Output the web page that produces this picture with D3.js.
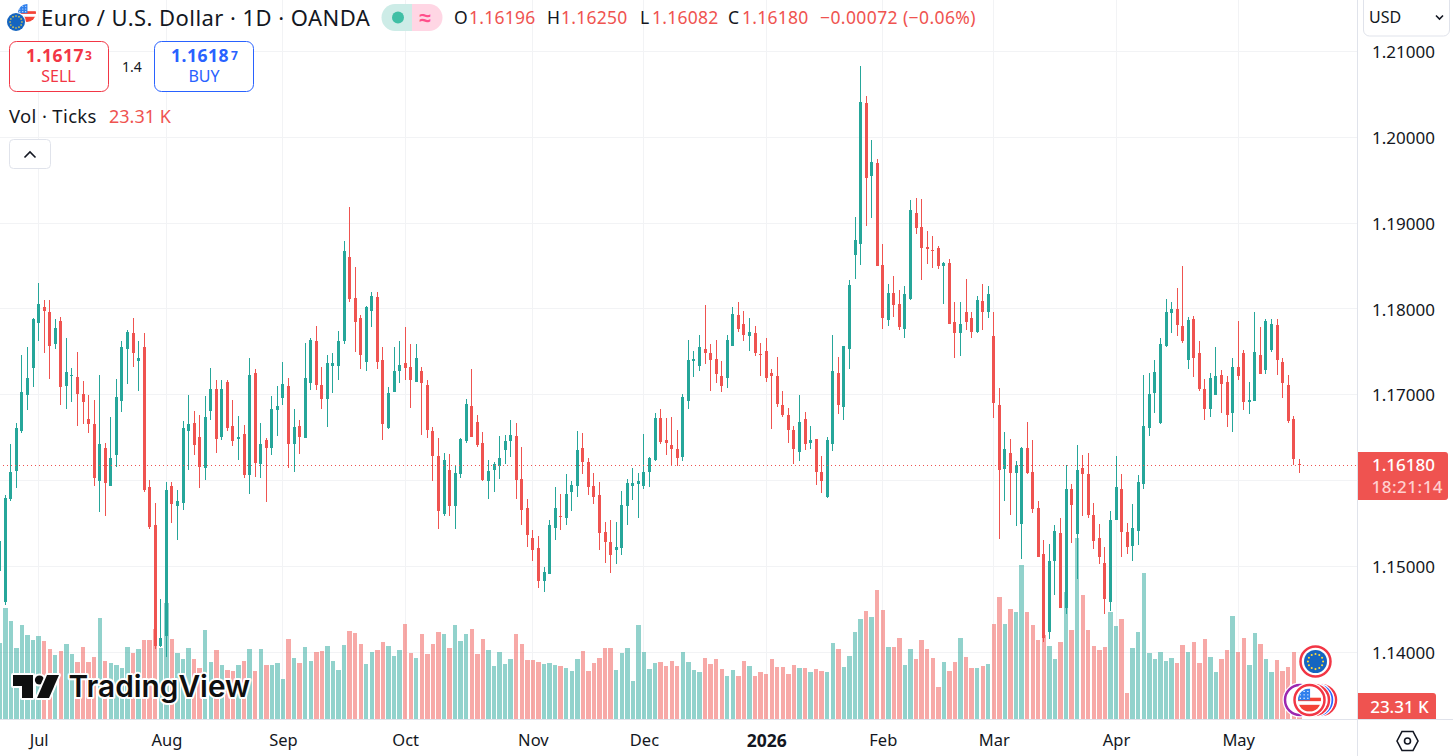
<!DOCTYPE html>
<html><head><meta charset="utf-8">
<script src="https://cdn.jsdelivr.net/npm/d3@7/dist/d3.min.js"></script>
<style>html,body{margin:0;padding:0;background:#fff;overflow:hidden}text{font-family:"Noto Sans",sans-serif;fill:#131722}</style>
</head><body><svg id="c" width="1453" height="756" xmlns="http://www.w3.org/2000/svg"></svg>
<script>
const opens=[1.14940,1.14586,1.15783,1.16109,1.16574,1.16993,1.17307,1.17842,1.18028,1.17969,
1.17597,1.17865,1.17097,1.17214,1.17202,1.17004,1.16714,1.16655,1.15993,1.16376,1.15935,
1.16295,1.16923,1.17539,1.17714,1.17388,1.17562,1.15923,1.15481,1.14066,1.14183,1.15935,
1.15702,1.15737,1.16574,1.16667,1.16504,1.16144,1.16807,1.17062,1.16504,1.17144,1.16632,
1.16481,1.16539,1.16062,1.17248,1.16190,1.16469,1.16376,1.16818,1.16958,1.17097,1.16423,
1.16632,1.16493,1.17132,1.17632,1.17109,1.16946,1.17330,1.17330,1.17632,1.18609,1.18132,
1.17900,1.17376,1.17981,1.18144,1.17400,1.16609,1.17028,1.17272,1.17365,1.17318,1.17144,
1.17272,1.17109,1.16574,1.16283,1.15609,1.16121,1.15702,1.16074,1.16458,1.16865,1.16679,
1.16435,1.15993,1.16121,1.16167,1.16353,1.16458,1.16516,1.16016,1.15679,1.15330,1.15214,
1.14830,1.14911,1.15446,1.15586,1.15562,1.15865,1.15935,1.16376,1.16214,1.15935,1.15830,
1.15400,1.15283,1.15190,1.15214,1.15702,1.15935,1.15958,1.15935,1.16097,1.16237,1.16725,
1.16469,1.16412,1.16365,1.16272,1.16923,1.17388,1.17330,1.17528,1.17481,1.17412,1.17214,
1.17191,1.17574,1.17935,1.17819,1.17679,1.17714,1.17470,1.17505,1.17249,1.17214,1.16877,
1.16760,1.16586,1.16330,1.16714,1.16435,1.16481,1.16098,1.15807,1.16423,1.17249,1.16853,
1.17528,1.18633,1.18760,1.20400,1.19551,1.19702,1.18516,1.17877,1.18191,1.18063,1.17772,
1.18121,1.19121,1.18958,1.18726,1.18691,1.18714,1.18505,1.18540,1.17853,1.17714,1.17970,
1.17900,1.17726,1.18098,1.17970,1.17690,1.16876,1.16132,1.16318,1.16086,1.15493,1.16376,
1.16097,1.15679,1.15144,1.14237,1.15062,1.15388,1.14516,1.15900,1.15376,1.16144,1.16074,
1.15597,1.15330,1.15039,1.14586,1.15539,1.15900,1.15400,1.15237,1.15411,1.15958,1.16609,
1.17016,1.16667,1.17574,1.17958,1.18004,1.17807,1.17400,1.17888,1.17481,1.17062,1.16830,
1.16993,1.17225,1.17144,1.16783,1.17318,1.17481,1.16911,1.16923,1.17469,1.17283,1.17516,
1.17818,1.17376,1.17109,1.16714,1.16196];
const highs=[1.15360,1.15830,1.16423,1.16667,1.17458,1.17551,1.17900,1.18307,1.18109,1.18109,
1.17888,1.17911,1.17667,1.17307,1.17504,1.17155,1.16993,1.16935,1.17225,1.16435,1.16737,
1.17179,1.17621,1.17760,1.17900,1.17621,1.17714,1.16004,1.15737,1.14621,1.15981,1.15981,
1.15888,1.16690,1.16993,1.16807,1.16760,1.16981,1.17307,1.17167,1.17167,1.17167,1.16935,
1.16748,1.16644,1.17434,1.17295,1.16667,1.16493,1.16981,1.17097,1.17376,1.17190,1.16830,
1.16702,1.17609,1.17667,1.17807,1.17318,1.17469,1.17481,1.17748,1.18795,1.19190,1.18493,
1.17934,1.18039,1.18202,1.18202,1.17551,1.17086,1.17551,1.17621,1.17795,1.17597,1.17597,
1.17318,1.17167,1.16621,1.16493,1.16318,1.16307,1.16167,1.16493,1.16946,1.17295,1.16760,
1.16562,1.16237,1.16214,1.16516,1.16528,1.16702,1.16667,1.16388,1.15783,1.15423,1.15353,
1.14993,1.15539,1.15923,1.15841,1.16074,1.15993,1.16574,1.16551,1.16260,1.16086,1.15981,
1.15516,1.15539,1.15516,1.15876,1.16016,1.16144,1.16086,1.16539,1.16272,1.16783,1.16830,
1.16725,1.16737,1.16586,1.17005,1.17633,1.17505,1.17702,1.18051,1.17586,1.17633,1.17388,
1.17702,1.18028,1.18086,1.17981,1.17900,1.17807,1.17609,1.17656,1.17295,1.17435,1.17039,
1.16842,1.16633,1.16993,1.16795,1.16633,1.16481,1.16284,1.16505,1.17702,1.17435,1.17574,
1.18342,1.19074,1.20830,1.20481,1.19970,1.19749,1.18760,1.18295,1.18388,1.18226,1.18272,
1.19272,1.19295,1.19284,1.18912,1.18853,1.18737,1.18551,1.18586,1.18086,1.18086,1.18353,
1.17970,1.18156,1.18295,1.18272,1.17969,1.17074,1.16562,1.16481,1.16225,1.16388,1.16679,
1.16469,1.15760,1.15307,1.15260,1.15481,1.15562,1.16179,1.15958,1.16411,1.16295,1.16318,
1.15737,1.15493,1.15225,1.15644,1.16283,1.16074,1.15504,1.15725,1.16062,1.17225,1.17248,
1.17400,1.17667,1.18121,1.18086,1.18248,1.18504,1.17911,1.17923,1.17632,1.17179,1.17248,
1.17562,1.17283,1.17214,1.17423,1.17865,1.17516,1.17144,1.17969,1.17795,1.17888,1.17888,
1.17888,1.17423,1.17225,1.16748,1.16250];
const lows=[1.14930,1.14551,1.15760,1.15911,1.16551,1.16818,1.17086,1.17621,1.17481,1.17179,
1.17539,1.16876,1.16830,1.16911,1.16632,1.16655,1.16551,1.15935,1.15632,1.15586,1.15935,
1.16155,1.16795,1.17121,1.17318,1.17039,1.15865,1.15434,1.14031,1.14055,1.13938,1.15504,
1.15307,1.15655,1.16121,1.16295,1.15911,1.16004,1.16702,1.16318,1.16469,1.16574,1.16400,
1.16237,1.16028,1.15841,1.16039,1.16028,1.15748,1.16295,1.16516,1.16876,1.16144,1.16097,
1.16307,1.16493,1.17051,1.17051,1.16830,1.16621,1.17016,1.17167,1.17586,1.18086,1.17504,
1.17295,1.17272,1.17795,1.17295,1.16469,1.16597,1.17028,1.17132,1.17167,1.16841,1.17144,
1.16528,1.16493,1.15993,1.15434,1.15586,1.15586,1.15434,1.16028,1.16435,1.16504,1.16388,
1.15993,1.15783,1.15865,1.16016,1.16190,1.16272,1.15783,1.15481,1.15225,1.15062,1.14748,
1.14702,1.14911,1.15307,1.15423,1.15481,1.15644,1.15807,1.16074,1.15830,1.15725,1.15190,
1.15039,1.14923,1.15028,1.15132,1.15481,1.15772,1.15562,1.15900,1.15923,1.16225,1.16423,
1.16295,1.16179,1.16167,1.16226,1.16830,1.17202,1.17272,1.17353,1.17039,1.17133,1.17028,
1.17074,1.17574,1.17737,1.17621,1.17505,1.17447,1.17214,1.17144,1.16598,1.16853,1.16737,
1.16435,1.16191,1.16226,1.16353,1.16365,1.15947,1.15854,1.15795,1.16342,1.16772,1.16702,
1.17295,1.18353,1.18516,1.18970,1.19063,1.18505,1.17772,1.17807,1.17912,1.17760,1.17667,
1.18109,1.18877,1.18342,1.18528,1.18481,1.18470,1.18063,1.17830,1.17423,1.17447,1.17749,
1.17667,1.17714,1.17749,1.17900,1.16725,1.15318,1.15760,1.15597,1.15469,1.15086,1.16074,
1.15621,1.15109,1.14121,1.14155,1.14667,1.14516,1.14446,1.15272,1.14853,1.15586,1.15562,
1.15202,1.15027,1.14446,1.14481,1.15539,1.15109,1.15144,1.15062,1.15248,1.15900,1.16516,
1.16783,1.16655,1.17562,1.17725,1.17679,1.17609,1.17295,1.17202,1.17039,1.16702,1.16737,
1.16993,1.16783,1.16620,1.16562,1.17167,1.16818,1.16772,1.16923,1.17237,1.17237,1.17493,
1.17225,1.16958,1.16667,1.16179,1.16082];
const closes=[1.15300,1.15795,1.16097,1.16609,1.17028,1.17190,1.17888,1.18062,1.17981,1.17574,
1.17783,1.17086,1.17260,1.17225,1.17004,1.16911,1.16655,1.16028,1.16423,1.15969,1.16260,
1.16969,1.17551,1.17737,1.17481,1.17423,1.15888,1.15458,1.14066,1.14167,1.15888,1.15725,
1.15760,1.16609,1.16655,1.16411,1.16155,1.16737,1.17062,1.16481,1.17062,1.16609,1.16458,
1.16504,1.16062,1.17225,1.16202,1.16423,1.16376,1.16830,1.16865,1.17121,1.16423,1.16621,
1.16504,1.17190,1.17644,1.17109,1.16946,1.17365,1.17365,1.17621,1.18679,1.18121,1.17853,
1.17469,1.18028,1.18155,1.17376,1.16655,1.17016,1.17272,1.17341,1.17307,1.17167,1.17434,
1.17132,1.16586,1.16283,1.15644,1.16237,1.15702,1.16086,1.16481,1.16888,1.16504,1.16411,
1.16004,1.16109,1.16190,1.16260,1.16458,1.16528,1.16004,1.15655,1.15365,1.15190,1.14830,
1.14935,1.15481,1.15679,1.15574,1.15841,1.15946,1.16353,1.16214,1.15923,1.15807,1.15388,
1.15283,1.15132,1.15225,1.15714,1.15969,1.15969,1.15993,1.16097,1.16260,1.16725,1.16446,
1.16435,1.16365,1.16260,1.16970,1.17400,1.17412,1.17551,1.17481,1.17400,1.17237,1.17098,
1.17633,1.17947,1.17772,1.17702,1.17737,1.17481,1.17458,1.17191,1.17214,1.16888,1.16760,
1.16586,1.16365,1.16679,1.16423,1.16470,1.16098,1.15993,1.16470,1.17272,1.16877,1.17563,
1.18284,1.18807,1.20412,1.19528,1.19714,1.18505,1.17900,1.18191,1.18051,1.17784,1.18179,
1.19156,1.18946,1.18714,1.18702,1.18679,1.18505,1.18540,1.17830,1.17714,1.17830,1.17853,
1.17737,1.18109,1.17970,1.18179,1.16900,1.16121,1.16365,1.16086,1.16179,1.16376,1.16086,
1.15667,1.15109,1.14167,1.15062,1.15411,1.14516,1.15900,1.15714,1.16121,1.16074,1.15597,
1.15295,1.15109,1.14620,1.15539,1.15923,1.15400,1.15225,1.15446,1.15981,1.16632,1.17004,
1.17260,1.17597,1.17969,1.18004,1.17818,1.17632,1.17876,1.17434,1.17062,1.16830,1.17190,
1.17214,1.17120,1.16760,1.17318,1.17214,1.16911,1.16934,1.17493,1.17237,1.17865,1.17830,
1.17400,1.17132,1.16690,1.16248,1.16180];
const volumes=[137,200,176,128,169,151,142,150,141,126,115,123,135,117,103,130,103,112,182,105,101,
97,92,130,119,126,142,142,162,128,209,144,119,108,128,108,92,160,103,124,97,89,87,97,105,126,87,126,97,97,101,
72,144,110,101,130,105,121,123,132,105,89,133,158,155,135,99,121,124,139,132,114,124,171,119,110,153,117,135,157,153,
128,169,141,153,162,117,144,124,96,121,99,108,153,135,106,106,103,99,101,97,96,92,87,108,123,87,101,110,128,128,
89,119,128,69,169,121,90,101,103,96,105,96,121,103,89,85,110,99,108,90,78,89,78,105,96,78,85,81,108,94,
94,81,97,92,92,85,90,87,85,137,126,94,114,157,180,194,184,232,196,130,130,146,97,126,108,142,126,110,58,103,
87,103,146,112,92,92,96,99,171,219,171,198,193,277,193,169,142,151,132,108,139,228,160,325,223,160,132,124,130,193,
167,180,47,128,157,263,119,108,121,105,110,101,133,121,139,101,144,112,85,108,124,185,121,146,97,155,135,108,85,106,
87,94,121,23.31];
const priceTicks=[1.21,1.2,1.19,1.18,1.17,1.16,1.15,1.14];
const timeLabels=["Jul","Aug","Sep","Oct","Nov","Dec","2026","Feb","Mar","Apr","May"];
const timeIndex=[6,29,50,72,95,115,137,158,178,200,222];
const legendQuote={o:"1.16196",h:"1.16250",l:"1.16082",c:"1.16180",chg:"−0.00072 (−0.06%)"};
const lastPrice=1.16180, countdown="18:21:14", lastVolume="23.31 K";

const UP="#26a69a",DOWN="#ef5350",W=1453,H=756,PANE=1357,BOT=719;
const svg=d3.select("#c");
const x=d3.scaleLinear().domain([0,233]).range([5.3,1299.3]);
const y=d3.scaleLinear().domain([1.14,1.21]).range([652,51.7]);
const v=d3.scaleLinear().domain([0,23.31]).range([719.3,706.3]);
const data=opens.map((o,i)=>({i:i-1,o,h:highs[i],l:lows[i],c:closes[i],v:volumes[i]}));
const snap=i=>Math.floor(x(i))+0.5;
svg.append("clipPath").attr("id","pane").append("rect").attr("width",PANE).attr("height",BOT);
const pane=svg.append("g").attr("clip-path","url(#pane)");
const GRID="#f2f3f5";
pane.append("g").selectAll("line").data(priceTicks).join("line").attr("x1",0).attr("x2",PANE)
 .attr("y1",d=>Math.floor(y(d))+.5).attr("y2",d=>Math.floor(y(d))+.5).attr("stroke",GRID);
pane.append("g").selectAll("line").data(timeIndex).join("line").attr("y1",0).attr("y2",BOT)
 .attr("x1",d=>snap(d)).attr("x2",d=>snap(d)).attr("stroke",GRID);
// volume
pane.append("g").attr("shape-rendering","crispEdges").selectAll("rect").data(data).join("rect")
 .attr("x",d=>Math.round(x(d.i)-2.2)).attr("width",d=>Math.round(x(d.i)+2.2)-Math.round(x(d.i)-2.2))
 .attr("y",d=>v(d.v)).attr("height",d=>v(0)-v(d.v))
 .attr("fill",d=>d.c>=d.o?UP:DOWN).attr("fill-opacity",.5);
// candles
const cg=pane.append("g").attr("shape-rendering","crispEdges");
cg.selectAll("line").data(data).join("line").attr("x1",d=>snap(d.i)).attr("x2",d=>snap(d.i))
 .attr("y1",d=>y(d.h)).attr("y2",d=>y(d.l)).attr("stroke",d=>d.c>=d.o?UP:DOWN);
cg.selectAll("rect").data(data).join("rect").attr("x",d=>snap(d.i)-1.5).attr("width",3)
 .attr("y",d=>y(Math.max(d.o,d.c))).attr("height",d=>Math.max(1,Math.abs(y(d.o)-y(d.c))))
 .attr("fill",d=>d.c>=d.o?UP:DOWN);
// last price line
pane.append("line").attr("x1",3).attr("x2",PANE).attr("y1",Math.round(y(lastPrice))+.5).attr("y2",Math.round(y(lastPrice))+.5)
 .attr("stroke",DOWN).attr("stroke-dasharray","1 3");
// axes lines
const AX="#e0e3eb";
svg.append("line").attr("x1",PANE+.5).attr("x2",PANE+.5).attr("y1",0).attr("y2",H).attr("stroke",AX);
svg.append("line").attr("x1",0).attr("x2",W).attr("y1",BOT+.5).attr("y2",BOT+.5).attr("stroke",AX);
// price axis
const px=svg.append("g").attr("transform",`translate(${PANE+15},0.8)`).call(d3.axisRight(y).tickValues(priceTicks.filter(d=>d!==1.16)).tickSize(0).tickPadding(0).tickFormat(d3.format(".5f")));
px.select(".domain").remove();
px.selectAll("text").attr("font-size",17).style("font-family",'"Noto Sans",sans-serif').style("fill","#131722");
// time axis
const tx=svg.append("g").attr("transform",`translate(0,${BOT})`).call(d3.axisBottom(x).tickValues(timeIndex).tickSize(0).tickPadding(15.5).tickFormat((d,i)=>timeLabels[i]));
tx.select(".domain").remove();
tx.selectAll("text").attr("font-size",(d,i)=>timeLabels[i]==="2026"?17.5:16.5).style("font-family",'"Noto Sans",sans-serif').style("fill","#131722").attr("font-weight",(d,i)=>timeLabels[i]==="2026"?700:400);
// helper
const T=(s,xx,yy,fs,col,a)=>{const t=svg.append("text").attr("x",xx).attr("y",yy).attr("font-size",fs).style("fill",col).text(s);if(a)t.attr("text-anchor",a);return t;};
// header
T("Euro / U.S. Dollar · 1D · OANDA",41,25.5,22,"#131722").attr("letter-spacing",.45);
// flags
function euro(cx,cy,r){const g=svg.append("g");g.append("circle").attr("cx",cx).attr("cy",cy).attr("r",r).attr("fill","#1565c0");
 d3.range(12).forEach(k=>{const a=k/12*2*Math.PI;g.append("circle").attr("cx",cx+Math.cos(a)*r*.66).attr("cy",cy+Math.sin(a)*r*.66).attr("r",Math.max(.7,r*.09)).attr("fill","#ffd93b");});return g;}
function usa(cx,cy,r,id){const g=svg.append("g");const c=svg.append("clipPath").attr("id",id);c.append("circle").attr("cx",cx).attr("cy",cy).attr("r",r);
 const f=g.append("g").attr("clip-path",`url(#${id})`);f.append("rect").attr("x",cx-r).attr("y",cy-r).attr("width",2*r).attr("height",2*r).attr("fill","#fff");
 f.append("rect").attr("x",cx-r).attr("y",cy-r*.2).attr("width",2*r).attr("height",r*.3).attr("fill","#f44336");
 f.append("rect").attr("x",cx-r).attr("y",cy+r*.42).attr("width",2*r).attr("height",r*.6).attr("fill","#f44336");
 f.append("rect").attr("x",cx-r).attr("y",cy-r).attr("width",r*1.05).attr("height",r*1.02).attr("fill","#2f80ed");
 d3.range(3).forEach(a=>d3.range(3).forEach(b=>f.append("circle").attr("cx",cx-r*.8+a*r*.33).attr("cy",cy-r*.75+b*r*.3).attr("r",Math.max(.5,r*.06)).attr("fill","#fff")));return g;}
usa(27,13,9,"u1");svg.append("circle").attr("cx",16).attr("cy",22).attr("r",10).attr("fill","#fff");euro(16,22,9);
// status pill
svg.append("path").attr("d","M395,4H412V31H395A13.5,13.5 0 0 1 395,4Z").attr("fill","#cdece7");
svg.append("path").attr("d","M412,4H429A13.5,13.5 0 0 1 429,31H412Z").attr("fill","#ffd6e4");
svg.append("circle").attr("cx",398).attr("cy",17.5).attr("r",6).attr("fill","#40bfa5");
T("≈",425,24.5,21,"#ff4f8b","middle").attr("font-weight",700);
// OHLC
[["O",454,469,legendQuote.o],["H",547,561,legendQuote.h],["L",640,652,legendQuote.l],["C",728,742,legendQuote.c]].forEach(([k,xx,vx,val])=>{
 T(k,xx,24,17.5,"#131722");T(val,vx,24,17.5,DOWN).attr("letter-spacing",.25);});
T(legendQuote.chg,820,24,17.5,DOWN).attr("letter-spacing",.4);
// sell / buy
svg.append("rect").attr("x",9.5).attr("y",41.5).attr("width",99).attr("height",50).attr("rx",7).attr("fill","#fff").attr("stroke","#f23645");
svg.append("rect").attr("x",154.5).attr("y",41.5).attr("width",99).attr("height",50).attr("rx",7).attr("fill","#fff").attr("stroke","#2962ff");
T("1.1617",26,62,17.5,"#f23645").attr("font-weight",700).attr("letter-spacing",.5);
T("3",85,60,12,"#f23645").attr("font-weight",700);
T("SELL",58.5,81.5,16,"#f23645","middle");
T("1.4",132,72,14,"#131722","middle");
T("1.1618",171,62,17.5,"#2962ff").attr("font-weight",700).attr("letter-spacing",.5);
T("7",231,60,12,"#2962ff").attr("font-weight",700);
T("BUY",204,81.5,16,"#2962ff","middle");
T("Vol · Ticks",9,122.5,18.5,"#131722").attr("letter-spacing",.35);
T(lastVolume,109,122.5,18,DOWN);
svg.append("rect").attr("x",9.5).attr("y",139.5).attr("width",41).attr("height",29).attr("rx",4).attr("fill","#fff").attr("stroke",AX);
svg.append("path").attr("d","M24.5,157.5L30,152L35.5,157.5").attr("fill","none").attr("stroke","#131722").attr("stroke-width",1.6);
// USD
svg.append("rect").attr("x",1363.5).attr("y",-6).attr("width",86).attr("height",42).attr("rx",6).attr("fill","#fff").attr("stroke",AX);
T("USD",1369,23,16,"#131722");
svg.append("path").attr("d","M1436,15.5L1439.5,19L1443,15.5").attr("fill","none").attr("stroke","#131722").attr("stroke-width",1.6);
// last price label
svg.append("path").attr("d","M1358,452H1445a3,3 0 0 1 3,3V497a3,3 0 0 1 -3,3H1358Z").attr("fill",DOWN);
T(d3.format(".5f")(lastPrice),1372,471,17,"#fff").attr("font-weight",500);
T(countdown,1371.5,493,17,"#ffd0cf").attr("font-weight",500).attr("letter-spacing",.5);
svg.append("path").attr("d","M1358,693H1433a3,3 0 0 1 3,3V719H1358Z").attr("fill",DOWN);
T(lastVolume,1399.5,712.5,17,"#fff","middle").attr("font-weight",500);
// settings hexagon
svg.append("path").attr("d","M1397,741L1402,731.5H1413L1418,741L1413,750.5H1402Z").attr("fill","none").attr("stroke","#131722").attr("stroke-width",1.6);
svg.append("circle").attr("cx",1407.5).attr("cy",741).attr("r",3).attr("fill","none").attr("stroke","#131722").attr("stroke-width",1.6);
// logo
const lg=svg.append("g");
const halo=s=>s.attr("stroke","#fff").attr("stroke-width",4).attr("stroke-linejoin","round").style("paint-order","stroke");
halo(lg.append("path").attr("d","M13,675H33V698H22V686H13Z").attr("fill","#0f0f0f"));
halo(lg.append("circle").attr("cx",39.5).attr("cy",680).attr("r",4.6).attr("fill","#0f0f0f"));
halo(lg.append("path").attr("d","M47,675H59L49,698H37Z").attr("fill","#0f0f0f"));
halo(lg.append("text").attr("x",68.5).attr("y",697).attr("font-size",29.8).attr("font-weight",600).style("fill","#0f0f0f").style("font-family","Inter,sans-serif").text("TradingView"));
// flags bottom right
function ring(cx,cy,col,r){svg.append("circle").attr("cx",cx).attr("cy",cy).attr("r",r+2.5).attr("fill","#fff");svg.append("circle").attr("cx",cx).attr("cy",cy).attr("r",r).attr("fill","#fff").attr("stroke",col).attr("stroke-width",2.5);}
ring(1315.5,661.5,"#f23645",15);euro(1315.5,661.5,11.5);
ring(1300,700,"#9c27b0",15);ring(1321,700,"#f23645",15);ring(1317,700,"#2962ff",15);ring(1314,700,"#f23645",15);ring(1309.5,700,"#f23645",15);usa(1309.5,700,11.5,"u2");
</script></body></html>
